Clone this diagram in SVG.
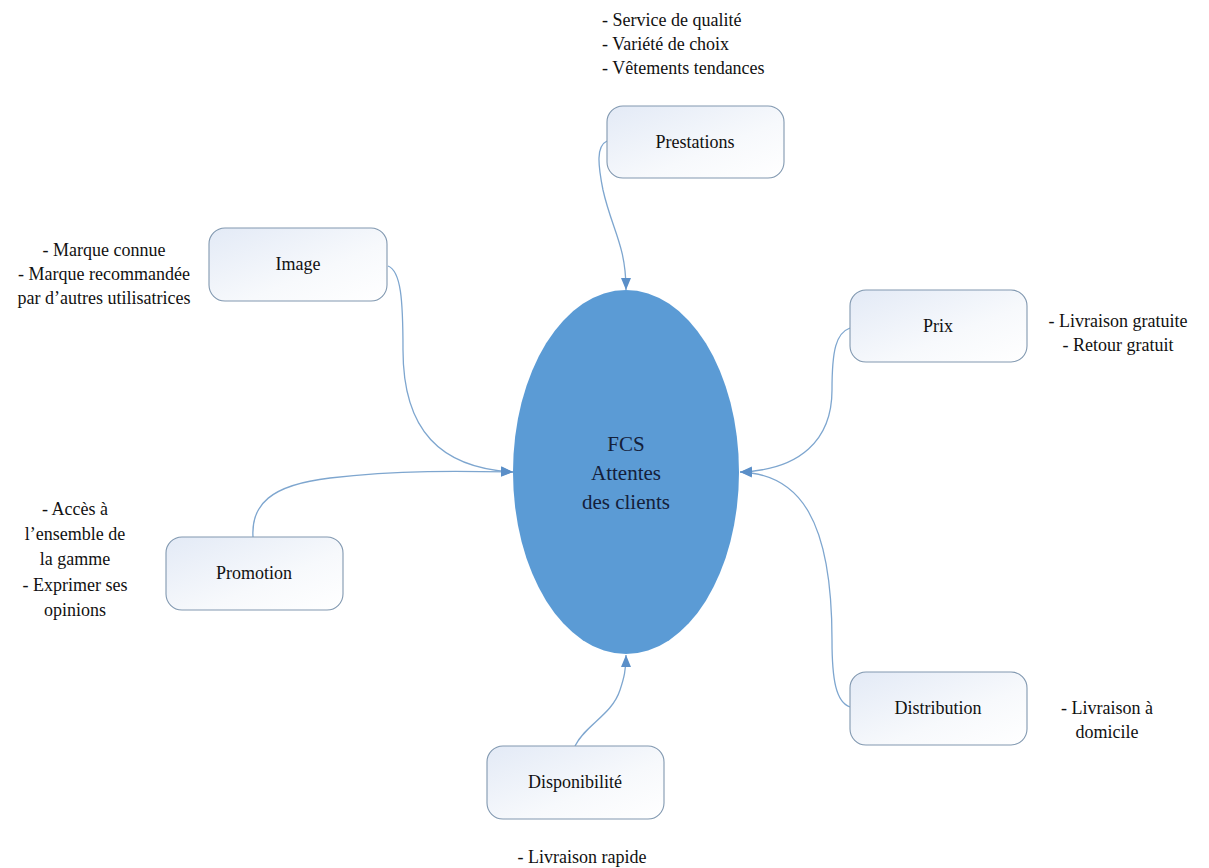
<svg xmlns="http://www.w3.org/2000/svg" width="1209" height="868" viewBox="0 0 1209 868">
<defs>
<linearGradient id="boxfill" x1="0" y1="0" x2="1" y2="1">
<stop offset="0" stop-color="#e3eaf6"/>
<stop offset="0.6" stop-color="#f7f9fc"/>
<stop offset="1" stop-color="#ffffff"/>
</linearGradient>
<marker id="arr" markerUnits="userSpaceOnUse" markerWidth="12" markerHeight="12" viewBox="0 0 12 10" refX="12" refY="5" orient="auto">
<path d="M0,0 L12,5 L0,10 z" fill="#5b8fc8"/>
</marker>
<style>
.box{fill:url(#boxfill);stroke:#8198b0;stroke-width:1.1}
text{font-family:'Liberation Serif','DejaVu Serif','Times New Roman',serif}
.lbl{font-size:18px;fill:#111;text-anchor:middle}
.ann{font-size:18px;fill:#111}
.mid{text-anchor:middle}
.con{fill:none;stroke:#7ea6cf;stroke-width:1.3;marker-end:url(#arr)}
.core{font-size:21px;fill:#14203a;text-anchor:middle}
</style>
</defs>
<rect width="1209" height="868" fill="#ffffff"/>

<g id="connectors">
<path class="con" d="M607,141 C596,146 598,165 603,190 C612,230 626,245 626,290"/>
<path class="con" d="M388,266 C401,271 403,300 403,350 C403,430 440,468 513,472"/>
<path class="con" d="M253,537 C251,505 270,485 330,478 C400,470 460,471 513,472"/>
<path class="con" d="M850,328 C836,333 832,350 832,390 C832,440 800,470 740,472"/>
<path class="con" d="M850,707 C836,702 832,680 832,640 C832,520 800,474 740,472"/>
<path class="con" d="M575,746 C585,725 612,715 620,690 C624,678 626,670 626,655"/>
</g>

<g id="core" font-family="Liberation Serif, DejaVu Serif, serif">
<ellipse cx="626" cy="472" rx="113" ry="182" fill="#5b9bd5"/>
<text class="core" x="626" y="451">FCS</text>
<text class="core" x="626" y="480">Attentes</text>
<text class="core" x="626" y="509">des clients</text>
</g>

<g id="prestations" font-family="Liberation Serif, DejaVu Serif, serif">
<rect class="box" x="607" y="106" width="177" height="72" rx="16"/>
<text class="lbl" x="695" y="148">Prestations</text>
<text class="ann" x="602" y="26">- Service de qualité</text>
<text class="ann" x="602" y="50">- Variété de choix</text>
<text class="ann" x="602" y="74">- Vêtements tendances</text>
</g>

<g id="image" font-family="Liberation Serif, DejaVu Serif, serif">
<rect class="box" x="209" y="228" width="178" height="73" rx="16"/>
<text class="lbl" x="298" y="270">Image</text>
<text class="ann mid" x="104" y="256">- Marque connue</text>
<text class="ann mid" x="104" y="280">- Marque recommandée</text>
<text class="ann mid" x="104" y="304">par d’autres utilisatrices</text>
</g>

<g id="prix" font-family="Liberation Serif, DejaVu Serif, serif">
<rect class="box" x="850" y="290" width="177" height="72" rx="16"/>
<text class="lbl" x="938" y="332">Prix</text>
<text class="ann mid" x="1118" y="327">- Livraison gratuite</text>
<text class="ann mid" x="1118" y="351">- Retour gratuit</text>
</g>

<g id="promotion" font-family="Liberation Serif, DejaVu Serif, serif">
<rect class="box" x="166" y="537" width="177" height="73" rx="16"/>
<text class="lbl" x="254" y="579">Promotion</text>
<text class="ann mid" x="75" y="515">- Accès à</text>
<text class="ann mid" x="75" y="540">l’ensemble de</text>
<text class="ann mid" x="75" y="565">la gamme</text>
<text class="ann mid" x="75" y="591">- Exprimer ses</text>
<text class="ann mid" x="75" y="616">opinions</text>
</g>

<g id="distribution" font-family="Liberation Serif, DejaVu Serif, serif">
<rect class="box" x="850" y="672" width="177" height="73" rx="16"/>
<text class="lbl" x="938" y="714">Distribution</text>
<text class="ann mid" x="1107" y="714">- Livraison à</text>
<text class="ann mid" x="1107" y="738">domicile</text>
</g>

<g id="disponibilite" font-family="Liberation Serif, DejaVu Serif, serif">
<rect class="box" x="487" y="746" width="177" height="73" rx="16"/>
<text class="lbl" x="575" y="788">Disponibilité</text>
<text class="ann mid" x="582" y="863">- Livraison rapide</text>
</g>
</svg>
